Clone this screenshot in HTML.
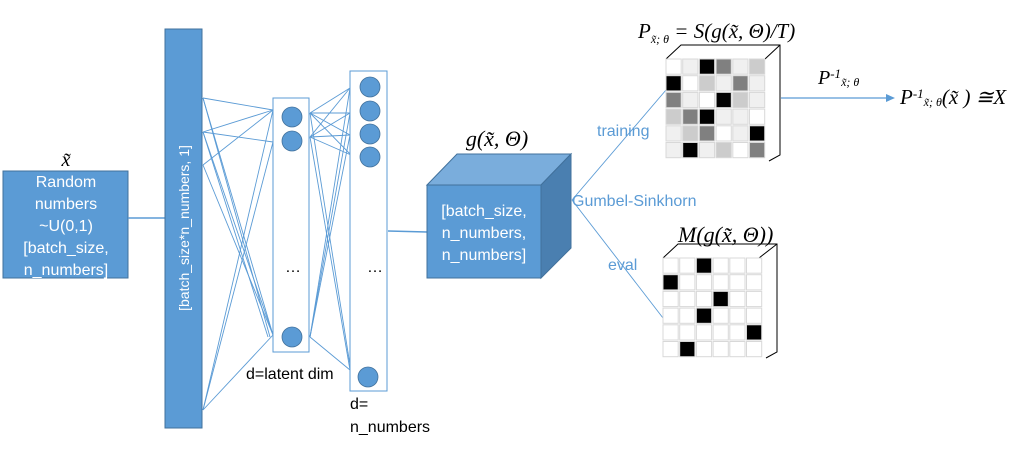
<!DOCTYPE html>
<html><head><meta charset="utf-8"><style>
html,body{margin:0;padding:0;background:#fff;}
svg{display:block;}
.s{font-family:"Liberation Sans",sans-serif;}
.m{font-family:"Liberation Serif",serif;font-style:italic;}
</style></head><body>
<svg width="1031" height="458" viewBox="0 0 1031 458" xmlns="http://www.w3.org/2000/svg">
<text x="66" y="166" class="m" font-size="20" text-anchor="middle">x̃</text>
<rect x="3" y="171" width="125" height="107" fill="#5b9bd5" stroke="#41719c"/>
<g class="s" fill="#fff" font-size="16" text-anchor="middle">
<text x="66" y="187">Random</text><text x="66" y="209">numbers</text><text x="66" y="231">~U(0,1)</text><text x="66" y="253">[batch_size,</text><text x="66" y="275">n_numbers]</text>
</g>
<line x1="128" y1="218" x2="165" y2="218" stroke="#5b9bd5" stroke-width="1.5"/>
<rect x="165" y="29" width="37" height="399" fill="#5b9bd5" stroke="#41719c"/>
<text transform="translate(189,228) rotate(-90)" class="s" fill="#fff" font-size="14" text-anchor="middle">[batch_size*n_numbers, 1]</text>
<g stroke="#5b9bd5" stroke-width="0.9" fill="none">
<line x1="203" y1="98" x2="273" y2="110"/><line x1="203" y1="98" x2="273" y2="335"/><line x1="203" y1="98" x2="270" y2="337"/>
<line x1="203" y1="132" x2="273" y2="110"/><line x1="203" y1="132" x2="273" y2="142"/><line x1="203" y1="132" x2="273" y2="335"/><line x1="203" y1="132" x2="268" y2="337"/>
<line x1="203" y1="165" x2="273" y2="110"/><line x1="203" y1="165" x2="273" y2="335"/>
<line x1="203" y1="410" x2="273" y2="110"/><line x1="203" y1="410" x2="273" y2="142"/><line x1="203" y1="410" x2="273" y2="335"/>
</g>
<rect x="273" y="98" width="36" height="254" fill="#fff" stroke="#5b9bd5"/>
<g fill="#5b9bd5" stroke="#41719c" stroke-width="0.8">
<ellipse cx="292" cy="117" rx="10" ry="10"/><ellipse cx="292" cy="141" rx="10" ry="10"/><ellipse cx="292" cy="337" rx="10" ry="10"/>
</g>
<text x="293" y="272" class="s" font-size="16" text-anchor="middle">…</text>
<g stroke="#5b9bd5" stroke-width="0.9" fill="none">
<line x1="310" y1="113" x2="350" y2="88"/><line x1="310" y1="113" x2="350" y2="113"/><line x1="310" y1="113" x2="350" y2="135"/><line x1="310" y1="113" x2="351" y2="155"/><line x1="310" y1="113" x2="350" y2="365"/>
<line x1="310" y1="137" x2="350" y2="88"/><line x1="310" y1="137" x2="350" y2="113"/><line x1="310" y1="137" x2="350" y2="135"/><line x1="310" y1="137" x2="351" y2="155"/><line x1="310" y1="137" x2="350" y2="370"/>
<line x1="310" y1="337" x2="350" y2="88"/><line x1="310" y1="337" x2="350" y2="113"/><line x1="310" y1="337" x2="350" y2="135"/><line x1="310" y1="337" x2="350" y2="370"/>
</g>
<rect x="350" y="71" width="37" height="320" fill="#fff" stroke="#5b9bd5"/>
<g fill="#5b9bd5" stroke="#41719c" stroke-width="0.8">
<ellipse cx="370" cy="87" rx="10" ry="10"/><ellipse cx="370" cy="111" rx="10" ry="10"/><ellipse cx="370" cy="134" rx="10" ry="10"/><ellipse cx="370" cy="157" rx="10" ry="10"/><ellipse cx="368" cy="377" rx="10" ry="10"/>
</g>
<text x="375" y="272" class="s" font-size="16" text-anchor="middle">…</text>
<text x="246" y="379" class="s" font-size="16">d=latent dim</text>
<text x="350" y="409" class="s" font-size="16">d=</text>
<text x="350" y="432" class="s" font-size="16">n_numbers</text>
<line x1="388" y1="231" x2="427" y2="232" stroke="#5b9bd5" stroke-width="1.5"/>
<text x="497" y="146" class="m" font-size="22" text-anchor="middle">g(x̃, Θ)</text>
<polygon points="427,185 457,154 571,154 541,185" fill="#7aaddc" stroke="#41719c"/>
<polygon points="541,185 571,154 571,248 541,278" fill="#4a7fb0" stroke="#41719c"/>
<rect x="427" y="185" width="114" height="93" fill="#5b9bd5" stroke="#41719c"/>
<g class="s" fill="#fff" font-size="16" text-anchor="middle">
<text x="484" y="216">[batch_size,</text><text x="484" y="238">n_numbers,</text><text x="484" y="260">n_numbers]</text>
</g>
<g stroke="#5b9bd5" stroke-width="0.9"><line x1="572" y1="200" x2="666" y2="90"/><line x1="572" y1="200" x2="663" y2="318"/></g>
<g class="s" fill="#5b9bd5" font-size="16">
<text x="597" y="136">training</text><text x="572" y="206">Gumbel-Sinkhorn</text><text x="608" y="270">eval</text>
</g>
<text x="638" y="38" class="m" font-size="21">P<tspan font-size="12" dy="5">x̃; θ</tspan><tspan dy="-5"> = S(g(x̃, Θ)/T)</tspan></text>
<g stroke="#000" stroke-width="1" fill="none"><polyline points="666,59 681,45 780,45 780,155 769,161"/><line x1="765" y1="59" x2="780" y2="45"/></g>
<g id="top"></g>
<text x="678" y="242" class="m" font-size="22">M(g(x̃, Θ))</text>
<g stroke="#000" stroke-width="1" fill="none"><polyline points="663,258 678,244 777,244 777,352 766,358"/><line x1="759" y1="258" x2="777" y2="244"/></g>
<g id="bot"></g>
<line x1="781" y1="98" x2="890" y2="98" stroke="#5b9bd5" stroke-width="1.3"/>
<polygon points="895,98 886,94 886,102" fill="#5b9bd5"/>
<text x="818" y="84" class="m" font-size="20">P<tspan font-size="13" dy="-6">-1</tspan><tspan font-size="12" dy="8">x̃; θ</tspan></text>
<text x="900" y="104" class="m" font-size="21">P<tspan font-size="13" dy="-6">-1</tspan><tspan font-size="12" dy="8">x̃; θ</tspan><tspan dy="-2">(x̃ ) ≅X</tspan></text>
<script>
(function(){
var ns="http://www.w3.org/2000/svg";
var W="#fff",L="#f0f0f0",K="#000",G="#808080",M="#cccccc";
var t=[[W,L,K,G,L,M],[K,W,M,L,G,L],[G,L,W,K,M,L],[M,G,K,L,L,W],[L,M,G,W,L,K],[L,K,L,M,W,G]];
var b=[[2],[0],[3],[2],[5],[1]];
function draw(id,x0,y0,cs,fn){var g=document.getElementById(id);
for(var r=0;r<6;r++)for(var c=0;c<6;c++){var e=document.createElementNS(ns,"rect");
e.setAttribute("x",x0+c*cs);e.setAttribute("y",y0+r*cs);e.setAttribute("width",cs-1.5);e.setAttribute("height",cs-1.5);
e.setAttribute("fill",fn(r,c));e.setAttribute("stroke","#d8d8d8");e.setAttribute("stroke-width","1");g.appendChild(e);}}
draw("top",666,59,16.7,function(r,c){return t[r][c];});
draw("bot",663,258,16.7,function(r,c){return b[r][0]==c?K:W;});
})();
</script>
</svg>
</body></html>
